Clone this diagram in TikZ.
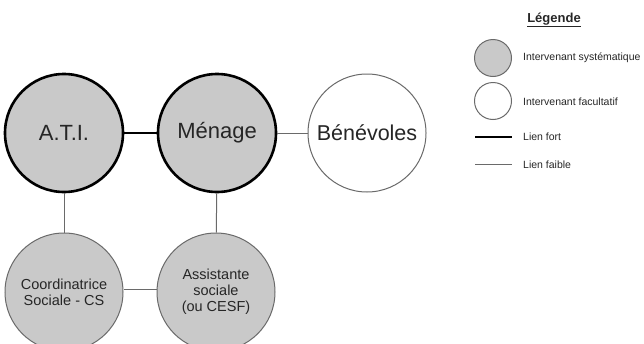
\documentclass[tikz,border=0pt]{standalone}
\usepackage{fontspec}
\setmainfont{Liberation Sans}
\definecolor{fillgrey}{HTML}{C9C9C9}
\definecolor{rimgrey}{HTML}{6A6A6A}
\definecolor{txtgrey}{HTML}{262626}
\begin{document}
\begin{tikzpicture}[x=1pt,y=-1pt,
  actor/.style={circle,minimum size=118pt,inner sep=0pt,align=center,text=txtgrey},
  strong/.style={actor,draw=black,line width=2.6pt,fill=fillgrey,font=\fontsize{22}{25}\selectfont},
  regular/.style={actor,draw=rimgrey,line width=1pt,fill=fillgrey,font=\fontsize{14.5}{16}\selectfont},
  optional/.style={actor,draw=rimgrey,line width=1pt,fill=white,font=\fontsize{21.5}{24}\selectfont},
  tie/.style={draw=black,line width=2.8pt},
  weak/.style={draw=rimgrey,line width=1pt},
  keydot/.style={circle,minimum size=37pt,inner sep=0pt,draw=rimgrey,line width=1pt},
  keytext/.style={anchor=west,inner sep=0pt,text=txtgrey,font=\fontsize{10.5}{12}\selectfont}]
\useasboundingbox (0,0) rectangle (644,343);
\begin{scope}
\clip (0,0) rectangle (644,343);
% diagram nodes
\node[strong]   (ati)  at (64,133)  {A.T.I.};
\node[strong]   (men)  at (217,133) {Ménage};
\node[optional] (ben)  at (367,133) {Bénévoles};
\node[regular]  (coo)  at (64,292)  {Coordinatrice\\Sociale - CS};
\node[regular]  (ass)  at (216,292) {Assistante\\sociale\\(ou CESF)};
% links
\draw[tie]  (ati) -- (men);
\draw[weak] (men) -- (ben);
\draw[weak] (ati) -- (coo);
\draw[weak] (men) -- (ass);
\draw[weak] (coo.east |- 0,289) -- (ass.west |- 0,289);
\end{scope}
% key
\node[inner sep=0pt,text=txtgrey,font=\bfseries\fontsize{13}{15}\selectfont] (keyhead) at (554,20) {\underline{Légende}};
\node[keydot,fill=fillgrey] (kd1) at (493,58)  {};
\node[keydot,fill=white]    (kd2) at (493,101) {};
\node[keytext] (kt1) at (523,58)  {Intervenant systématique};
\node[keytext] (kt2) at (523,102) {Intervenant facultatif};
\coordinate (ks1) at (475,137);
\coordinate (ke1) at (512,137);
\coordinate (ks2) at (475,164);
\coordinate (ke2) at (512,164);
\draw[black,line width=2.4pt] (ks1) -- (ke1);
\draw[weak] (ks2) -- (ke2);
\node[keytext] (kt3) at (523,137) {Lien fort};
\node[keytext] (kt4) at (523,165) {Lien faible};
\end{tikzpicture}
\end{document}
